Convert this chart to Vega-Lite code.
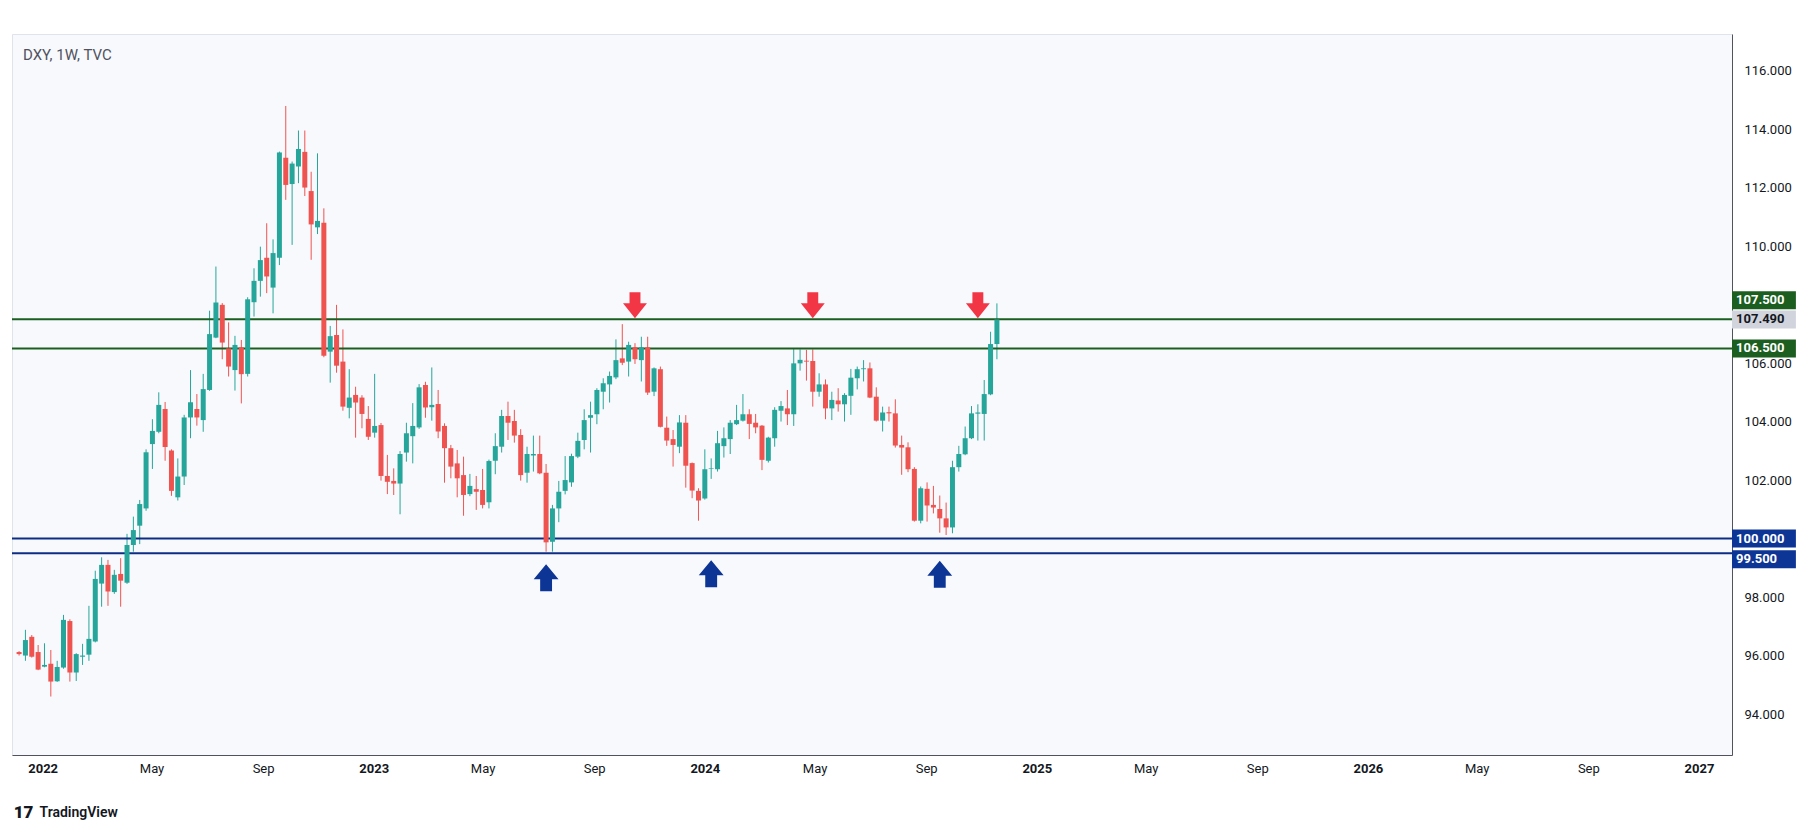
{
  "$schema": "https://vega.github.io/schema/vega-lite/v6.json",
  "width": 1720,
  "height": 721,
  "autosize": {"type": "none"},
  "padding": {"left": 12, "top": 34, "right": 83, "bottom": 80},
  "background": "#ffffff",
  "title": {"text": "DXY, 1W, TVC", "anchor": "start", "frame": "group", "orient": "top", "offset": -36, "baseline": "middle", "dx": 11, "fontSize": 15, "fontWeight": "normal", "color": "#50535e", "font": "Roboto"},
  "config": {"view": {"fill": "#f8f9fd", "stroke": "#e0e3eb"}, "font": "Roboto"},
  "datasets": {
    "candles": [
      {"date":"2021-12-06","open":96.12,"high":96.15,"low":96.0,"close":96.05},
      {"date":"2021-12-13","open":96.0,"high":96.88,"low":95.82,"close":96.53},
      {"date":"2021-12-20","open":96.64,"high":96.7,"low":95.93,"close":95.96},
      {"date":"2021-12-27","open":96.12,"high":96.36,"low":95.5,"close":95.52},
      {"date":"2022-01-03","open":95.62,"high":96.42,"low":95.6,"close":95.68},
      {"date":"2022-01-10","open":95.72,"high":96.19,"low":94.6,"close":95.11},
      {"date":"2022-01-17","open":95.12,"high":95.82,"low":95.1,"close":95.61},
      {"date":"2022-01-24","open":95.59,"high":97.39,"low":95.55,"close":97.22},
      {"date":"2022-01-31","open":97.18,"high":97.24,"low":95.11,"close":95.42},
      {"date":"2022-02-07","open":95.42,"high":96.08,"low":95.13,"close":96.05},
      {"date":"2022-02-14","open":95.96,"high":96.4,"low":95.68,"close":96.0},
      {"date":"2022-02-21","open":96.03,"high":97.7,"low":95.82,"close":96.57},
      {"date":"2022-02-28","open":96.48,"high":98.9,"low":96.45,"close":98.62},
      {"date":"2022-03-07","open":98.46,"high":99.36,"low":97.67,"close":99.1},
      {"date":"2022-03-14","open":99.1,"high":99.27,"low":97.7,"close":98.19},
      {"date":"2022-03-21","open":98.17,"high":98.93,"low":98.11,"close":98.76},
      {"date":"2022-03-28","open":98.79,"high":99.33,"low":97.67,"close":98.56},
      {"date":"2022-04-04","open":98.49,"high":100.16,"low":98.45,"close":99.78},
      {"date":"2022-04-11","open":99.78,"high":100.75,"low":99.55,"close":100.29},
      {"date":"2022-04-18","open":100.44,"high":101.32,"low":99.81,"close":101.18},
      {"date":"2022-04-25","open":101.03,"high":103.05,"low":100.95,"close":102.95},
      {"date":"2022-05-02","open":103.23,"high":104.08,"low":102.38,"close":103.68},
      {"date":"2022-05-09","open":103.65,"high":105.0,"low":103.6,"close":104.57},
      {"date":"2022-05-16","open":104.43,"high":104.67,"low":102.66,"close":103.13},
      {"date":"2022-05-23","open":103.01,"high":103.05,"low":101.46,"close":101.63},
      {"date":"2022-05-30","open":101.41,"high":102.74,"low":101.3,"close":102.12},
      {"date":"2022-06-06","open":102.12,"high":104.23,"low":101.83,"close":104.14},
      {"date":"2022-06-13","open":104.14,"high":105.76,"low":103.43,"close":104.66},
      {"date":"2022-06-20","open":104.43,"high":104.94,"low":103.86,"close":104.14},
      {"date":"2022-06-27","open":104.05,"high":105.63,"low":103.65,"close":105.11},
      {"date":"2022-07-04","open":105.08,"high":107.79,"low":105.05,"close":106.99},
      {"date":"2022-07-11","open":106.87,"high":109.3,"low":106.85,"close":108.07},
      {"date":"2022-07-18","open":107.99,"high":108.05,"low":106.13,"close":106.7},
      {"date":"2022-07-25","open":106.5,"high":107.39,"low":105.54,"close":105.88},
      {"date":"2022-08-01","open":105.76,"high":106.93,"low":105.06,"close":106.62},
      {"date":"2022-08-08","open":106.54,"high":106.79,"low":104.62,"close":105.62},
      {"date":"2022-08-15","open":105.63,"high":108.25,"low":105.54,"close":108.18},
      {"date":"2022-08-22","open":108.08,"high":109.24,"low":107.59,"close":108.81},
      {"date":"2022-08-29","open":108.81,"high":109.98,"low":108.27,"close":109.52},
      {"date":"2022-09-05","open":109.6,"high":110.78,"low":108.39,"close":108.96},
      {"date":"2022-09-12","open":108.58,"high":110.23,"low":107.7,"close":109.76},
      {"date":"2022-09-19","open":109.6,"high":113.23,"low":109.35,"close":113.2},
      {"date":"2022-09-26","open":113.02,"high":114.79,"low":111.58,"close":112.09},
      {"date":"2022-10-03","open":112.12,"high":112.89,"low":110.04,"close":112.82},
      {"date":"2022-10-10","open":112.72,"high":113.95,"low":112.15,"close":113.32},
      {"date":"2022-10-17","open":113.22,"high":113.95,"low":111.71,"close":112.0},
      {"date":"2022-10-24","open":111.88,"high":112.54,"low":109.53,"close":110.74},
      {"date":"2022-10-31","open":110.64,"high":113.17,"low":110.41,"close":110.86},
      {"date":"2022-11-07","open":110.8,"high":111.29,"low":106.2,"close":106.25},
      {"date":"2022-11-14","open":106.39,"high":107.27,"low":105.33,"close":106.92},
      {"date":"2022-11-21","open":106.96,"high":107.99,"low":105.67,"close":105.91},
      {"date":"2022-11-28","open":106.05,"high":107.15,"low":104.37,"close":104.51},
      {"date":"2022-12-05","open":104.47,"high":105.79,"low":104.11,"close":104.82},
      {"date":"2022-12-12","open":104.91,"high":105.19,"low":103.45,"close":104.65},
      {"date":"2022-12-19","open":104.82,"high":104.9,"low":103.77,"close":104.26},
      {"date":"2022-12-26","open":104.09,"high":104.53,"low":103.37,"close":103.48},
      {"date":"2023-01-02","open":103.62,"high":105.63,"low":103.45,"close":103.85},
      {"date":"2023-01-09","open":103.88,"high":103.95,"low":101.98,"close":102.14},
      {"date":"2023-01-16","open":102.14,"high":102.86,"low":101.52,"close":101.94},
      {"date":"2023-01-23","open":101.97,"high":102.4,"low":101.49,"close":101.88},
      {"date":"2023-01-30","open":101.88,"high":102.99,"low":100.83,"close":102.89},
      {"date":"2023-02-06","open":102.94,"high":103.96,"low":102.63,"close":103.6},
      {"date":"2023-02-13","open":103.5,"high":104.63,"low":102.57,"close":103.85},
      {"date":"2023-02-20","open":103.8,"high":105.28,"low":103.75,"close":105.17},
      {"date":"2023-02-27","open":105.25,"high":105.36,"low":104.13,"close":104.48},
      {"date":"2023-03-06","open":104.49,"high":105.85,"low":104.03,"close":104.57},
      {"date":"2023-03-13","open":104.6,"high":105.08,"low":103.43,"close":103.66},
      {"date":"2023-03-20","open":103.85,"high":103.94,"low":101.91,"close":103.09},
      {"date":"2023-03-27","open":103.09,"high":103.2,"low":102.06,"close":102.46},
      {"date":"2023-04-03","open":102.57,"high":103.03,"low":101.41,"close":102.06},
      {"date":"2023-04-10","open":102.17,"high":102.8,"low":100.78,"close":101.49},
      {"date":"2023-04-17","open":101.52,"high":102.21,"low":101.45,"close":101.8},
      {"date":"2023-04-24","open":101.69,"high":102.14,"low":100.98,"close":101.6},
      {"date":"2023-05-01","open":101.66,"high":102.38,"low":101.03,"close":101.15},
      {"date":"2023-05-08","open":101.24,"high":102.7,"low":101.03,"close":102.65},
      {"date":"2023-05-15","open":102.66,"high":103.6,"low":102.2,"close":103.16},
      {"date":"2023-05-22","open":103.14,"high":104.4,"low":102.94,"close":104.19},
      {"date":"2023-05-29","open":104.19,"high":104.68,"low":103.37,"close":103.96},
      {"date":"2023-06-05","open":104.02,"high":104.4,"low":103.28,"close":103.52},
      {"date":"2023-06-12","open":103.54,"high":103.74,"low":101.98,"close":102.17},
      {"date":"2023-06-19","open":102.25,"high":103.14,"low":101.91,"close":102.89},
      {"date":"2023-06-26","open":102.84,"high":103.52,"low":102.29,"close":102.89},
      {"date":"2023-07-03","open":102.89,"high":103.52,"low":102.2,"close":102.23},
      {"date":"2023-07-10","open":102.25,"high":102.55,"low":99.55,"close":99.87},
      {"date":"2023-07-17","open":99.89,"high":101.15,"low":99.55,"close":101.03},
      {"date":"2023-07-24","open":101.03,"high":101.97,"low":100.56,"close":101.6},
      {"date":"2023-07-31","open":101.63,"high":102.82,"low":101.51,"close":102.0},
      {"date":"2023-08-07","open":101.92,"high":102.9,"low":101.77,"close":102.82},
      {"date":"2023-08-14","open":102.8,"high":103.62,"low":102.75,"close":103.34},
      {"date":"2023-08-21","open":103.37,"high":104.42,"low":103.05,"close":104.05},
      {"date":"2023-08-28","open":104.13,"high":104.68,"low":102.94,"close":104.22},
      {"date":"2023-09-04","open":104.25,"high":105.14,"low":103.91,"close":105.08},
      {"date":"2023-09-11","open":105.02,"high":105.48,"low":104.42,"close":105.31},
      {"date":"2023-09-18","open":105.27,"high":105.71,"low":104.65,"close":105.56},
      {"date":"2023-09-25","open":105.51,"high":106.81,"low":105.45,"close":106.1},
      {"date":"2023-10-02","open":106.16,"high":107.33,"low":105.93,"close":106.01},
      {"date":"2023-10-09","open":106.05,"high":106.73,"low":105.54,"close":106.62},
      {"date":"2023-10-16","open":106.54,"high":106.68,"low":105.97,"close":106.13},
      {"date":"2023-10-23","open":106.1,"high":106.9,"low":105.37,"close":106.54},
      {"date":"2023-10-30","open":106.54,"high":106.9,"low":104.91,"close":104.99},
      {"date":"2023-11-06","open":105.02,"high":105.85,"low":104.87,"close":105.82},
      {"date":"2023-11-13","open":105.79,"high":105.88,"low":103.8,"close":103.82},
      {"date":"2023-11-20","open":103.79,"high":104.17,"low":103.17,"close":103.35},
      {"date":"2023-11-27","open":103.4,"high":103.71,"low":102.46,"close":103.2},
      {"date":"2023-12-04","open":103.14,"high":104.22,"low":102.92,"close":103.97},
      {"date":"2023-12-11","open":103.96,"high":104.22,"low":101.74,"close":102.49},
      {"date":"2023-12-18","open":102.58,"high":102.6,"low":101.38,"close":101.64},
      {"date":"2023-12-25","open":101.63,"high":101.72,"low":100.61,"close":101.3},
      {"date":"2024-01-01","open":101.37,"high":103.05,"low":101.33,"close":102.37},
      {"date":"2024-01-08","open":102.38,"high":102.74,"low":102.04,"close":102.4},
      {"date":"2024-01-15","open":102.37,"high":103.68,"low":102.29,"close":103.26},
      {"date":"2024-01-22","open":103.16,"high":103.8,"low":102.77,"close":103.43},
      {"date":"2024-01-29","open":103.4,"high":104.05,"low":102.89,"close":103.96},
      {"date":"2024-02-05","open":103.91,"high":104.57,"low":103.88,"close":104.05},
      {"date":"2024-02-12","open":104.03,"high":104.94,"low":104.0,"close":104.25},
      {"date":"2024-02-19","open":104.25,"high":104.42,"low":103.4,"close":103.92},
      {"date":"2024-02-26","open":103.96,"high":104.26,"low":103.6,"close":103.8},
      {"date":"2024-03-04","open":103.86,"high":103.88,"low":102.34,"close":102.69},
      {"date":"2024-03-11","open":102.66,"high":103.48,"low":102.6,"close":103.45},
      {"date":"2024-03-18","open":103.43,"high":104.49,"low":103.14,"close":104.4},
      {"date":"2024-03-25","open":104.37,"high":104.7,"low":104.0,"close":104.53},
      {"date":"2024-04-01","open":104.45,"high":105.08,"low":103.88,"close":104.25},
      {"date":"2024-04-08","open":104.25,"high":106.51,"low":103.85,"close":105.99},
      {"date":"2024-04-15","open":105.99,"high":106.47,"low":105.74,"close":106.11},
      {"date":"2024-04-22","open":106.08,"high":106.45,"low":105.4,"close":106.05},
      {"date":"2024-04-29","open":106.07,"high":106.47,"low":104.51,"close":105.02},
      {"date":"2024-05-06","open":105.02,"high":105.65,"low":104.85,"close":105.27},
      {"date":"2024-05-13","open":105.27,"high":105.44,"low":104.08,"close":104.45},
      {"date":"2024-05-20","open":104.45,"high":105.02,"low":104.05,"close":104.74},
      {"date":"2024-05-27","open":104.72,"high":105.14,"low":104.34,"close":104.59},
      {"date":"2024-06-03","open":104.59,"high":104.97,"low":104.0,"close":104.91},
      {"date":"2024-06-10","open":104.88,"high":105.8,"low":104.23,"close":105.5},
      {"date":"2024-06-17","open":105.48,"high":105.88,"low":105.1,"close":105.79},
      {"date":"2024-06-24","open":105.79,"high":106.1,"low":105.37,"close":105.82},
      {"date":"2024-07-01","open":105.82,"high":106.02,"low":104.8,"close":104.82},
      {"date":"2024-07-08","open":104.85,"high":105.17,"low":104.0,"close":104.03},
      {"date":"2024-07-15","open":104.03,"high":104.51,"low":103.66,"close":104.31},
      {"date":"2024-07-22","open":104.32,"high":104.51,"low":104.0,"close":104.28},
      {"date":"2024-07-29","open":104.28,"high":104.76,"low":103.11,"close":103.18},
      {"date":"2024-08-05","open":103.2,"high":103.52,"low":102.18,"close":103.11},
      {"date":"2024-08-12","open":103.12,"high":103.29,"low":102.27,"close":102.37},
      {"date":"2024-08-19","open":102.38,"high":102.44,"low":100.58,"close":100.61},
      {"date":"2024-08-26","open":100.61,"high":101.78,"low":100.52,"close":101.72},
      {"date":"2024-09-02","open":101.7,"high":101.92,"low":100.58,"close":101.13},
      {"date":"2024-09-09","open":101.15,"high":101.8,"low":100.86,"close":101.06},
      {"date":"2024-09-16","open":101.01,"high":101.47,"low":100.2,"close":100.69},
      {"date":"2024-09-23","open":100.69,"high":101.23,"low":100.12,"close":100.38},
      {"date":"2024-09-30","open":100.38,"high":102.66,"low":100.18,"close":102.44},
      {"date":"2024-10-07","open":102.44,"high":103.17,"low":102.29,"close":102.89},
      {"date":"2024-10-14","open":102.88,"high":103.83,"low":102.85,"close":103.43},
      {"date":"2024-10-21","open":103.43,"high":104.53,"low":103.4,"close":104.28},
      {"date":"2024-10-28","open":104.27,"high":104.59,"low":103.35,"close":104.31},
      {"date":"2024-11-04","open":104.26,"high":105.42,"low":103.35,"close":104.94},
      {"date":"2024-11-11","open":104.93,"high":107.07,"low":104.9,"close":106.65},
      {"date":"2024-11-18","open":106.65,"high":108.04,"low":106.13,"close":107.49}
    ],
    "levels": [
      {"level": 107.5, "kind": "resistance"},
      {"level": 106.5, "kind": "resistance"},
      {"level": 100.0, "kind": "support"},
      {"level": 99.5, "kind": "support"}
    ],
    "arrows": [
      {"date": "2023-10-16", "price": 107.98, "dir": "down"},
      {"date": "2024-04-29", "price": 107.98, "dir": "down"},
      {"date": "2024-10-28", "price": 107.98, "dir": "down"},
      {"date": "2023-07-10", "price": 98.66, "dir": "up"},
      {"date": "2024-01-08", "price": 98.8, "dir": "up"},
      {"date": "2024-09-16", "price": 98.78, "dir": "up"}
    ],
    "tags": [
      {"price": 107.5, "kind": "resistance", "shift": "up"},
      {"price": 107.49, "kind": "last", "shift": "none"},
      {"price": 106.5, "kind": "resistance", "shift": "none"},
      {"price": 100.0, "kind": "support", "shift": "none"},
      {"price": 99.5, "kind": "support", "shift": "down"}
    ]
  },
  "layer": [
    {
      "data": {"name": "candles"},
      "mark": {"type": "rule", "strokeWidth": 1},
      "encoding": {
        "x": {
          "field": "date", "type": "temporal",
          "scale": {"type": "utc", "domain": [{"year": 2021, "month": 12, "date": 3, "hours": 17, "utc": true}, {"year": 2027, "month": 1, "date": 31, "hours": 21, "utc": true}]},
          "axis": {
            "orient": "bottom",
            "values": [
              {"year": 2022, "month": 1, "date": 1, "utc": true}, {"year": 2022, "month": 5, "date": 1, "utc": true}, {"year": 2022, "month": 9, "date": 1, "utc": true},
              {"year": 2023, "month": 1, "date": 1, "utc": true}, {"year": 2023, "month": 5, "date": 1, "utc": true}, {"year": 2023, "month": 9, "date": 1, "utc": true},
              {"year": 2024, "month": 1, "date": 1, "utc": true}, {"year": 2024, "month": 5, "date": 1, "utc": true}, {"year": 2024, "month": 9, "date": 1, "utc": true},
              {"year": 2025, "month": 1, "date": 1, "utc": true}, {"year": 2025, "month": 5, "date": 1, "utc": true}, {"year": 2025, "month": 9, "date": 1, "utc": true},
              {"year": 2026, "month": 1, "date": 1, "utc": true}, {"year": 2026, "month": 5, "date": 1, "utc": true}, {"year": 2026, "month": 9, "date": 1, "utc": true},
              {"year": 2027, "month": 1, "date": 1, "utc": true}
            ],
            "labelExpr": "utcmonth(datum.value) == 0 ? utcFormat(datum.value, '%Y') : utcFormat(datum.value, '%b')",
            "labelFontWeight": {"condition": {"test": "utcmonth(datum.value) == 0", "value": "bold"}, "value": "normal"},
            "labelFontSize": 13,
            "labelColor": "#131722",
            "labelPadding": 7,
            "labelFlush": false,
            "labelOverlap": false,
            "ticks": false,
            "grid": false,
            "domainColor": "#50535e",
            "title": "TradingView",
            "titleFontSize": 14,
            "titleFontWeight": 600,
            "titleColor": "#131722",
            "titleAnchor": "start",
            "titleAlign": "left",
            "titleBaseline": "middle",
            "titleX": 27,
            "titleY": 57
          }
        },
        "y": {
          "field": "low", "type": "quantitative",
          "scale": {"domain": [92.6, 117.25], "nice": false, "zero": false},
          "axis": {
            "orient": "right",
            "values": [94, 96, 98, 102, 104, 106, 110, 112, 114, 116],
            "format": ".3f",
            "labelFontSize": 13,
            "labelColor": "#131722",
            "labelPadding": 12,
            "labelBaseline": "middle",
            "ticks": false,
            "grid": false,
            "domainColor": "#50535e",
            "zindex": 0,
            "title": "17",
            "titleAngle": 0,
            "titleX": -1709,
            "titleY": 778,
            "titleFontSize": 17,
            "titleFontWeight": 900,
            "titleColor": "#131722",
            "titleAlign": "center",
            "titleBaseline": "middle"
          }
        },
        "y2": {"field": "high"},
        "color": {"condition": {"test": "datum.close >= datum.open", "value": "#26a69a"}, "value": "#ef5350"}
      }
    },
    {
      "data": {"name": "levels"},
      "mark": {"type": "rule", "strokeWidth": 2},
      "encoding": {
        "y": {"field": "level", "type": "quantitative"},
        "color": {"condition": {"test": "datum.kind == 'resistance'", "value": "#1b5e20"}, "value": "#0d2c86"}
      }
    },
    {
      "data": {"name": "candles"},
      "mark": {"type": "bar", "size": 5},
      "encoding": {
        "x": {"field": "date", "type": "temporal"},
        "y": {"field": "open", "type": "quantitative"},
        "y2": {"field": "close"},
        "color": {"condition": {"test": "datum.close >= datum.open", "value": "#26a69a"}, "value": "#ef5350"}
      }
    },
    {
      "data": {"name": "arrows"},
      "transform": [{"filter": "datum.dir == 'down'"}],
      "mark": {"type": "point", "shape": "M-0.42,-1H0.42V-0.15H0.92L0,1L-0.92,-0.15H-0.42Z", "size": 676, "filled": true, "opacity": 1, "color": "#f23645", "strokeWidth": 0},
      "encoding": {
        "x": {"field": "date", "type": "temporal"},
        "y": {"field": "price", "type": "quantitative"}
      }
    },
    {
      "data": {"name": "arrows"},
      "transform": [{"filter": "datum.dir == 'up'"}],
      "mark": {"type": "point", "shape": "M-0.44,1H0.44V0.12H0.92L0,-1L-0.92,0.12H-0.44Z", "size": 729, "filled": true, "opacity": 1, "color": "#0d3595", "strokeWidth": 0},
      "encoding": {
        "x": {"field": "date", "type": "temporal"},
        "y": {"field": "price", "type": "quantitative"}
      }
    },
    {
      "data": {"name": "tags"},
      "transform": [{"filter": "datum.shift == 'none'"}],
      "layer": [
        {
          "mark": {"type": "point", "shape": "M0,-1H7.1V1H0Z", "size": 324, "filled": true, "opacity": 1, "strokeWidth": 0},
          "encoding": {
            "x": {"value": "width"},
            "y": {"field": "price", "type": "quantitative"},
            "color": {"condition": [{"test": "datum.kind == 'resistance'", "value": "#1b5e20"}, {"test": "datum.kind == 'support'", "value": "#0d3595"}], "value": "#d1d4dc"}
          }
        },
        {
          "mark": {"type": "text", "align": "left", "baseline": "middle", "dx": 4, "fontSize": 13, "fontWeight": "bold"},
          "encoding": {
            "x": {"value": "width"},
            "y": {"field": "price", "type": "quantitative"},
            "text": {"field": "price", "type": "quantitative", "format": ".3f"},
            "color": {"condition": {"test": "datum.kind == 'last'", "value": "#131722"}, "value": "#ffffff"}
          }
        }
      ]
    },
    {
      "data": {"name": "tags"},
      "transform": [{"filter": "datum.shift == 'up'"}],
      "layer": [
        {
          "mark": {"type": "point", "shape": "M0,-1H7.1V1H0Z", "size": 324, "filled": true, "opacity": 1, "strokeWidth": 0, "yOffset": -19, "color": "#1b5e20"},
          "encoding": {
            "x": {"value": "width"},
            "y": {"field": "price", "type": "quantitative"}
          }
        },
        {
          "mark": {"type": "text", "align": "left", "baseline": "middle", "dx": 4, "fontSize": 13, "fontWeight": "bold", "yOffset": -19, "color": "#ffffff"},
          "encoding": {
            "x": {"value": "width"},
            "y": {"field": "price", "type": "quantitative"},
            "text": {"field": "price", "type": "quantitative", "format": ".3f"}
          }
        }
      ]
    },
    {
      "data": {"name": "tags"},
      "transform": [{"filter": "datum.shift == 'down'"}],
      "layer": [
        {
          "mark": {"type": "point", "shape": "M0,-1H7.1V1H0Z", "size": 324, "filled": true, "opacity": 1, "strokeWidth": 0, "yOffset": 6, "color": "#0d3595"},
          "encoding": {
            "x": {"value": "width"},
            "y": {"field": "price", "type": "quantitative"}
          }
        },
        {
          "mark": {"type": "text", "align": "left", "baseline": "middle", "dx": 4, "fontSize": 13, "fontWeight": "bold", "yOffset": 6, "color": "#ffffff"},
          "encoding": {
            "x": {"value": "width"},
            "y": {"field": "price", "type": "quantitative"},
            "text": {"field": "price", "type": "quantitative", "format": ".3f"}
          }
        }
      ]
    }
  ]
}
